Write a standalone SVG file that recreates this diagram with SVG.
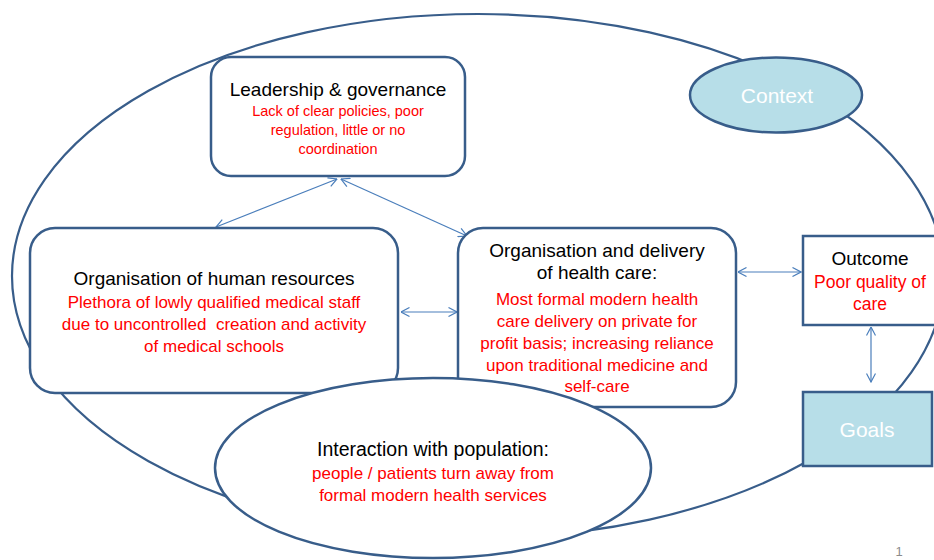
<svg xmlns="http://www.w3.org/2000/svg" width="934" height="560" viewBox="0 0 934 560">
<style>
text{font-family:"Liberation Sans",Arial,sans-serif;text-anchor:middle}
.box{fill:#fff;stroke:#385d8a;stroke-width:2.5}
.cyan{fill:#b7dee8;stroke:#385d8a;stroke-width:2.5}
.t{fill:#000;font-size:19px}
.r{fill:#ff0000;font-size:17px}
.rs{fill:#ff0000;font-size:14.5px}
.w{fill:#fff;font-size:21px}
.conn{stroke:#4a7ebb;stroke-width:1.2;fill:none;marker-start:url(#ah);marker-end:url(#ah)}
</style>
<defs>
<marker id="ah" viewBox="0 0 10 10" refX="9.5" refY="5" markerWidth="10" markerHeight="10" markerUnits="userSpaceOnUse" orient="auto-start-reverse">
<path d="M1,0.5 L9.5,5 L1,9.5" fill="none" stroke="#4a7ebb" stroke-width="1.2"/>
</marker>
</defs>
<rect width="934" height="560" fill="#fff"/>
<g id="context-boundary">
<ellipse cx="478" cy="276" rx="466" ry="262" fill="none" stroke="#385d8a" stroke-width="2.2"/>
</g>
<g id="connectors">
<line class="conn" x1="337" y1="179" x2="216" y2="227"/>
<line class="conn" x1="341" y1="179" x2="467" y2="236"/>
<line class="conn" x1="401" y1="312" x2="457" y2="312"/>
<line class="conn" x1="738" y1="272" x2="801" y2="272"/>
<line class="conn" x1="871" y1="327" x2="871" y2="382"/>
</g>
<g id="leadership">
<rect class="box" x="211" y="57" width="254" height="119" rx="20"/>
<text class="t" x="338" y="96">Leadership &amp; governance</text>
<text class="rs" x="338" y="116">Lack of clear policies, poor</text>
<text class="rs" x="338" y="135">regulation, little or no</text>
<text class="rs" x="338" y="154">coordination</text>
</g>
<g id="human-resources">
<rect class="box" x="30" y="228" width="368" height="165" rx="25"/>
<text class="t" x="214" y="285">Organisation of human resources</text>
<text class="r" x="214" y="308">Plethora of lowly qualified medical staff</text>
<text class="r" x="214" y="330" style="white-space:pre">due to uncontrolled  creation and activity</text>
<text class="r" x="214" y="352">of medical schools</text>
</g>
<g id="delivery">
<rect class="box" x="458" y="228" width="278" height="179" rx="25"/>
<text class="t" x="597" y="257">Organisation and delivery</text>
<text class="t" x="597" y="279">of health care:</text>
<text class="r" x="597" y="305">Most formal modern health</text>
<text class="r" x="597" y="327">care delivery on private for</text>
<text class="r" x="597" y="349">profit basis; increasing reliance</text>
<text class="r" x="597" y="371">upon traditional medicine and</text>
<text class="r" x="597" y="392">self-care</text>
</g>
<g id="outcome">
<rect class="box" x="803" y="236" width="135" height="89"/>
<text class="t" x="870" y="265">Outcome</text>
<text class="r" x="870" y="288" style="font-size:17.5px">Poor quality of</text>
<text class="r" x="870" y="310" style="font-size:17.5px">care</text>
</g>
<g id="goals">
<rect class="cyan" x="803" y="392" width="129" height="74"/>
<text class="w" x="867" y="437">Goals</text>
</g>
<g id="context">
<ellipse class="cyan" cx="776" cy="95" rx="86" ry="37.5"/>
<text class="w" x="777" y="103">Context</text>
</g>
<g id="interaction">
<ellipse class="box" cx="433" cy="468" rx="218" ry="90"/>
<text class="t" x="433" y="456" style="font-size:19.5px">Interaction with population:</text>
<text class="r" x="433" y="479">people / patients turn away from</text>
<text class="r" x="433" y="501">formal modern health services</text>
</g>
<text x="899" y="556" style="fill:#8c8c8c;font-size:13px">1</text>
</svg>
